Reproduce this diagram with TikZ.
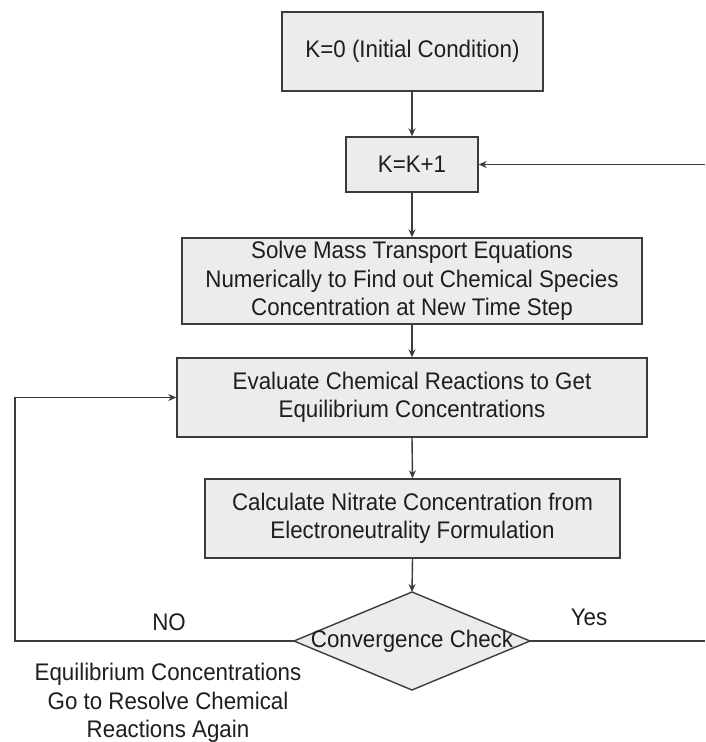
\documentclass[tikz,border=0pt]{standalone}
\usepackage{fontspec}
\setmainfont{Liberation Sans}[FakeStretch=0.93]
\usetikzlibrary{arrows.meta}
\definecolor{linegray}{RGB}{60,60,60}
\definecolor{boxfill}{RGB}{236,236,236}
\definecolor{txt}{RGB}{30,30,30}
\begin{document}
\begin{tikzpicture}[x=1pt,y=-1pt,
  every node/.style={font=\fontsize{24}{28.3}\selectfont, text=txt},
  procbox/.style={draw=linegray, line width=1.4pt, fill=boxfill, align=center, inner sep=0pt},
  conn/.style={draw=linegray, line width=1.4pt},
  arr/.style={conn, -{Stealth[length=8pt,width=7pt]}},
  lbl/.style={align=center, inner sep=0pt}]
\useasboundingbox (0,0) rectangle (705,742);
\node[procbox, minimum width=261pt, minimum height=79pt] (b1) at (412.5,51.5) {K=0 (Initial Condition)};
\node[procbox, minimum width=132pt, minimum height=55pt] (b2) at (412,164.5) {K=K+1};
\node[procbox, minimum width=460pt, minimum height=86pt] (b3) at (412,281) {Solve Mass Transport Equations\\Numerically to Find out Chemical Species\\Concentration at New Time Step};
\node[procbox, minimum width=470pt, minimum height=79pt] (b4) at (412,397.5) {Evaluate Chemical Reactions to Get\\Equilibrium Concentrations};
\node[procbox, minimum width=415pt, minimum height=79pt] (b5) at (412.5,518.5) {Calculate Nitrate Concentration from\\Electroneutrality Formulation};
% diamond
\coordinate (dt) at (412,592);
\coordinate (dr) at (530,641);
\coordinate (db) at (412,690);
\coordinate (dl) at (294,641);
\draw[draw=linegray, line width=1.4pt, fill=boxfill] (dt) -- (dr) -- (db) -- (dl) -- cycle;
\node[lbl] (dc) at (412,641) {Convergence Check};
% connectors
\draw[arr] (b1.south -| b2.north) -- (b2.north);
\draw[arr] (b2.south) -- (b3.north);
\draw[arr] (b3.south) -- (b4.north);
\draw[arr] (b4.south) -- (b5.north);
\draw[arr] (b5.south) -- (dt);
\coordinate (loopcorner) at (15,641);
\draw[arr] (dl) -- (loopcorner) |- (b4.west);
\coordinate (yesend) at (705,641);
\draw[conn] (dr) -- (yesend);
\coordinate (loopin) at (705,164.5);
\draw[arr] (loopin) -- (b2.east);
% labels
\node[lbl] (no) at (169,622) {NO};
\node[lbl] (yes) at (589,617) {Yes};
\node[lbl] (note) at (168,703) {Equilibrium Concentrations\\Go to Resolve Chemical\\Reactions Again};
\end{tikzpicture}
\end{document}
